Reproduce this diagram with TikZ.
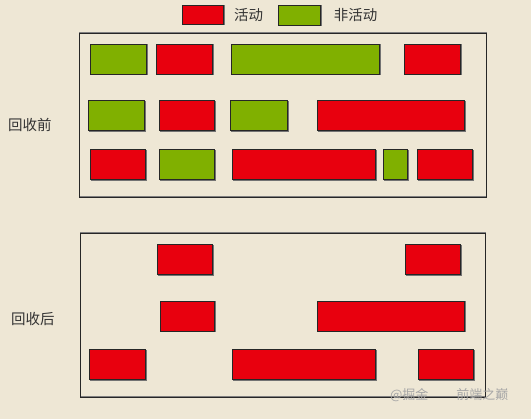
\documentclass[tikz,border=0pt]{standalone}
\usepackage{fontspec}
\newfontfamily\cjk{Noto Sans CJK SC}
\definecolor{paper}{HTML}{EEE7D5}
\definecolor{actred}{HTML}{E8000E}
\definecolor{idlegreen}{HTML}{80B000}
\definecolor{inkgray}{HTML}{333333}
\tikzset{
  blk/.style={draw=black!85,line width=0.9pt,inner sep=0pt,
    preaction={draw=black!55,line width=0.5pt,transform canvas={shift={(0.9pt,-0.7pt)}}}},
  act/.style={blk,fill=actred},
  idle/.style={blk,fill=idlegreen},
  heap/.style={draw=black!85,line width=0.9pt,inner sep=0pt,
    preaction={draw=black!50,line width=0.4pt,transform canvas={shift={(0.6pt,0.8pt)}}}},
  lbl/.style={font=\cjk\fontsize{14.5}{16}\selectfont,text=inkgray,inner sep=0pt}
}
\begin{document}
\begin{tikzpicture}[x=1pt,y=-1pt]
      \fill[paper] (0,0) rectangle (531,419);
      \useasboundingbox (0,0) rectangle (531,419);
      % legend
      \node[act,minimum width=41pt,minimum height=19pt] (keyact) at (202.5,14.5) {};
      \node[lbl] (keyacttxt) at (248.5,15) {活动};
      \node[idle,minimum width=42pt,minimum height=20pt] (keyidle) at (299,15) {};
      \node[lbl] (keyidletxt) at (355.5,15) {非活动};
      % heaps
      \node[heap,minimum width=407pt,minimum height=164pt] (before) at (282.5,115) {};
      \node[heap,minimum width=405pt,minimum height=164pt] (after) at (282.5,315) {};
      \node[lbl] (beforetxt) at (30,125) {回收前};
      \node[lbl] (aftertxt) at (33,319) {回收后};
      % before collection
      \begin{scope}[every node/.style={minimum height=30pt}]
        \node[idle,minimum width=56pt] (b11) at (118,59) {};
        \node[act,minimum width=56pt] (b12) at (184,59) {};
        \node[idle,minimum width=148pt] (b13) at (305,59) {};
        \node[act,minimum width=56pt] (b14) at (432,59) {};
        \node[idle,minimum width=56pt] (b21) at (116,115.5) {};
        \node[act,minimum width=55pt] (b22) at (186.5,115.5) {};
        \node[idle,minimum width=57pt] (b23) at (258.5,115.5) {};
        \node[act,minimum width=147pt] (b24) at (390.5,115.5) {};
        \node[act,minimum width=55pt] (b31) at (117.5,164.5) {};
        \node[idle,minimum width=55pt] (b32) at (186.5,164.5) {};
        \node[act,minimum width=143pt] (b33) at (303.5,164.5) {};
        \node[idle,minimum width=24pt] (b34) at (395,164.5) {};
        \node[act,minimum width=55pt] (b35) at (444.5,164.5) {};
      \end{scope}
      % after collection
      \begin{scope}[every node/.style={act,minimum height=30pt}]
        \node[minimum width=55pt] (a11) at (184.5,259.5) {};
        \node[minimum width=55pt] (a12) at (432.5,259.5) {};
        \node[minimum width=54pt] (a21) at (187,316) {};
        \node[minimum width=147pt] (a22) at (390.5,316) {};
        \node[minimum width=56pt] (a31) at (117,364.5) {};
        \node[minimum width=143pt] (a32) at (303.5,364.5) {};
        \node[minimum width=55pt] (a33) at (445.5,364.5) {};
      \end{scope}
      % watermark
      \node[font=\cjk\fontsize{13}{14}\selectfont,text=black!35,anchor=west,inner sep=0pt] (mark) at (390,395) {@掘金\hspace{28pt}前端之巅};
    \end{tikzpicture}
\end{document}
